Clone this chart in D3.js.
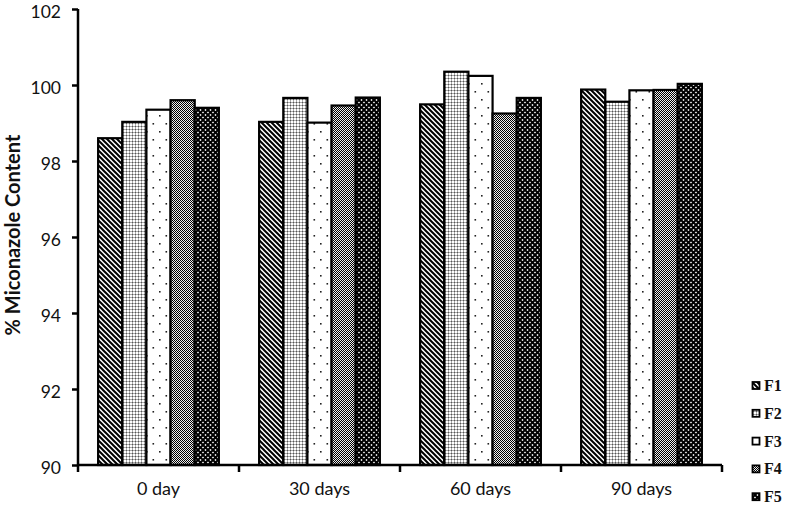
<!DOCTYPE html>
<html><head><meta charset="utf-8">
<script src="https://cdn.jsdelivr.net/npm/d3@7"></script>
<style>body{margin:0;background:#fff}svg{display:block}</style>
</head><body>
<script>
const categories = ["0 day", "30 days", "60 days", "90 days"];
const seriesNames = ["F1", "F2", "F3", "F4", "F5"];
const F1 = [98.60, 99.03, 99.49, 99.88];
const F2 = [99.03, 99.66, 100.35, 99.56];
const F3 = [99.35, 99.01, 100.24, 99.86];
const F4 = [99.60, 99.46, 99.25, 99.87];
const F5 = [99.40, 99.67, 99.66, 100.03];
const seriesValues = [F1, F2, F3, F4, F5];
const yTicks = [90, 92, 94, 96, 98, 100, 102];

(function () {
const W = 800, H = 516;
const svg = d3.select("body").append("svg").attr("width", W).attr("height", H);
const defs = svg.append("defs");

function pat(id, w, h) {
  return defs.append("pattern").attr("id", id).attr("patternUnits", "userSpaceOnUse")
    .attr("width", w).attr("height", h === undefined ? w : h);
}
let p = pat("p1", 5);
p.append("rect").attr("width", 5).attr("height", 5).attr("fill", "#fff");
p.append("path").attr("d", "M-1,-1 L6,6 M-1,4 L1,6 M4,-1 L6,1").attr("stroke", "#000").attr("stroke-width", 2);
p = pat("p2", 3);
p.append("rect").attr("width", 3).attr("height", 3).attr("fill", "#fff");
p.append("rect").attr("width", 3).attr("height", 1).attr("fill", "#aaa");
p.append("rect").attr("width", 1).attr("height", 3).attr("fill", "#aaa");
p.append("rect").attr("width", 1).attr("height", 1).attr("fill", "#555");
p = pat("p3", 13, 16);
p.append("rect").attr("width", 13).attr("height", 16).attr("fill", "#fff");
p.append("rect").attr("x", 3).attr("y", 3).attr("width", 1.6).attr("height", 1.6).attr("fill", "#222");
p.append("rect").attr("x", 9.5).attr("y", 11).attr("width", 1.6).attr("height", 1.6).attr("fill", "#222");
p = pat("p4", 2);
p.append("rect").attr("width", 2).attr("height", 2).attr("fill", "#eee");
p.append("rect").attr("width", 1).attr("height", 1).attr("fill", "#000");
p.append("rect").attr("x", 1).attr("y", 1).attr("width", 1).attr("height", 1).attr("fill", "#000");
p = pat("p5", 5);
p.append("rect").attr("width", 5).attr("height", 5).attr("fill", "#fff");
p.append("path").attr("d", "M-1,-1 L6,6 M-1,6 L6,-1").attr("stroke", "#000").attr("stroke-width", 2);
const fills = ["url(#p1)", "url(#p2)", "url(#p3)", "url(#p4)", "url(#p5)"];

const mLeft = 78, mRight = 722, mTop = 9, mBottom = 465;
const y = d3.scaleLinear().domain([90, 102]).range([mBottom, mTop]);
const x0 = d3.scaleBand().domain(categories).range([mLeft, mRight]).padding(0);
const x1 = d3.scaleBand().domain(seriesNames)
  .range([x0.bandwidth() * 0.125, x0.bandwidth() * 0.875]).padding(0);

const font = "Lato, 'Open Sans', sans-serif";

const g = svg.append("g");
categories.forEach((c, ci) => {
  const gg = g.append("g").attr("transform", `translate(${x0(c)},0)`);
  gg.selectAll("rect").data(seriesNames.map((s, si) => ({ s, si, v: seriesValues[si][ci] })))
    .join("rect")
    .attr("x", d => x1(d.s))
    .attr("y", d => y(d.v))
    .attr("width", x1.bandwidth())
    .attr("height", d => y(90) - y(d.v))
    .attr("fill", d => fills[d.si])
    .attr("stroke", "#000").attr("stroke-width", 2.2);
});

const ya = svg.append("g").attr("transform", `translate(${mLeft},0)`)
  .call(d3.axisLeft(y).tickValues(yTicks).tickSize(6).tickSizeOuter(0).tickPadding(11));
ya.select(".domain").attr("stroke-width", 2.5).attr("d", `M0,${mTop}V${mBottom}`);
ya.selectAll(".tick line").attr("stroke-width", 2.5);
ya.selectAll(".tick text").attr("font-family", font).attr("font-size", 17.5)
  .attr("dy", "0.48em").attr("fill", "#111");

const xa = svg.append("g").attr("transform", `translate(0,${mBottom})`)
  .call(d3.axisBottom(x0).tickSize(0).tickPadding(17));
xa.select(".domain").attr("stroke-width", 2.5).attr("d", `M${mLeft},0H${mRight}`);
xa.selectAll(".tick text").attr("font-family", font).attr("font-size", 18).attr("fill", "#111");
const bounds = categories.map(c => x0(c)).concat([x0.range()[1]]);
xa.selectAll(".bt").data(bounds).join("line").attr("class", "bt")
  .attr("x1", d => d).attr("x2", d => d).attr("y1", 0).attr("y2", 7)
  .attr("stroke", "#000").attr("stroke-width", 2.5);

svg.append("text").attr("transform", `translate(20,235) rotate(-90)`)
  .attr("text-anchor", "middle").attr("font-family", font).attr("font-weight", "bold")
  .attr("font-size", 20).attr("fill", "#111").text("% Miconazole Content");

const lg = svg.append("g");
seriesNames.forEach((s, i) => {
  const yy = 386 + i * 27.8;
  lg.append("rect").attr("x", 752.5).attr("y", yy - 4).attr("width", 7).attr("height", 7)
    .attr("fill", fills[i]).attr("stroke", "#000").attr("stroke-width", 1.8);
  lg.append("text").attr("x", 764).attr("y", yy + 5).attr("font-family", "'Liberation Serif', serif")
    .attr("font-weight", "bold").attr("font-size", 16).attr("fill", "#111").text(s);
});
})();
</script>
</body></html>
